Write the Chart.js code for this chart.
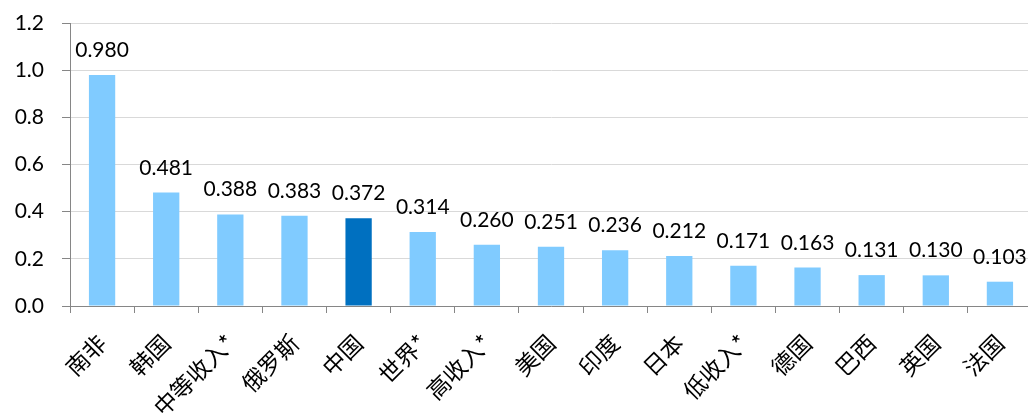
<!DOCTYPE html>
<html><head><meta charset="utf-8">
<script src="https://cdn.jsdelivr.net/npm/chart.js@4"></script>
<style>html,body{margin:0;padding:0;background:#fff;overflow:hidden;width:1028px;height:414px}#wrap{width:1032px;height:414px}</style>
</head><body><div id="wrap"><canvas id="c" width="1032" height="414"></canvas></div>
<script>
const categories = ['南非','韩国','中等收入*','俄罗斯','中国','世界*','高收入*','美国','印度','日本','低收入*','德国','巴西','英国','法国'];
const values = [0.980,0.481,0.388,0.383,0.372,0.314,0.260,0.251,0.236,0.212,0.171,0.163,0.131,0.130,0.103];
const yTicks = [0,0.2,0.4,0.6,0.8,1.0,1.2];
const highlight = '中国';
const colors = categories.map(c => c === highlight ? '#0070C0' : '#80CBFF');

const labelPlugin = {
  id: 'vals',
  afterDatasetsDraw(chart) {
    const ctx = chart.ctx;
    const meta = chart.getDatasetMeta(0);
    const ys = chart.scales.y;
    ctx.save();
    ctx.font = '21px Lato';
    ctx.fillStyle = '#000';
    ctx.textAlign = 'center';
    ctx.textBaseline = 'alphabetic';
    meta.data.forEach((bar, i) => {
      const y = ys.getPixelForValue(values[i]);
      ctx.fillText(values[i].toFixed(3), bar.x, y - 18);
    });
    ctx.restore();
  }
};

new Chart(document.getElementById('c'), {
  type: 'bar',
  data: { labels: categories, datasets: [{ data: values, backgroundColor: colors, barPercentage: 0.41, categoryPercentage: 1 }] },
  options: {
    responsive: false, animation: false,
    layout: { padding: { top: 23, right: 0, left: 0, bottom: 0 } },
    plugins: { legend: { display: false }, tooltip: { enabled: false } },
    scales: {
      x: {
        afterFit(s) { s.height = 108; s.paddingLeft = 0; s.paddingRight = 0; },
        grid: { display: true, drawOnChartArea: false, drawTicks: true, tickLength: 7, color: '#868686', offset: true },
        border: { color: '#868686', width: 1 },
        ticks: { maxRotation: 45, minRotation: 45, autoSkip: false, color: '#000', font: { family: "'Noto Sans CJK SC'", size: 23 }, padding: 16, labelOffset: 0 }
      },
      y: {
        min: 0, max: 1.2,
        afterFit(s) { s.width = 70; s.paddingTop = 0; s.paddingBottom = 0; },
        afterBuildTicks(s) { s.ticks = yTicks.map(v => ({ value: v })); },
        grid: { color: '#D9D9D9', tickColor: '#868686', tickLength: 8, drawTicks: true },
        border: { color: '#868686', width: 1 },
        ticks: { color: '#000', font: { family: 'Lato', size: 21 }, padding: 18, callback: v => v.toFixed(1) }
      }
    }
  },
  plugins: [labelPlugin]
});
</script></body></html>
